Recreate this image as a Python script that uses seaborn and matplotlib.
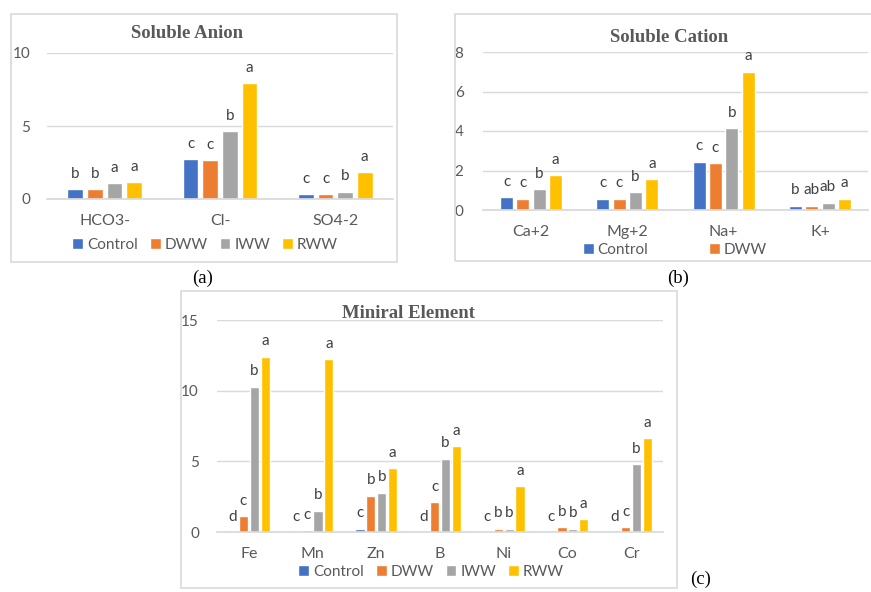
import numpy as np
import pandas as pd
import matplotlib
matplotlib.use("Agg")
import matplotlib.pyplot as plt
import seaborn as sns
from matplotlib.patches import Patch, Rectangle

W, H = 871, 592

TREATMENTS = ["Control", "DWW", "IWW", "RWW"]
COLORS = ["#4472C4", "#ED7D31", "#A5A5A5", "#FFC000"]

# (a) soluble anions
ANION_IONS = ["HCO3-", "Cl-", "SO4-2"]
ANION_CONTROL = [0.68, 2.74, 0.32]
ANION_DWW = [0.68, 2.67, 0.32]
ANION_IWW = [1.07, 4.63, 0.50]
ANION_RWW = [1.16, 7.95, 1.82]
ANION_LETTERS = [["b", "c", "c"], ["b", "c", "c"], ["a", "b", "b"], ["a", "a", "a"]]

# (b) soluble cations
CATION_IONS = ["Ca+2", "Mg+2", "Na+", "K+"]
CATION_CONTROL = [0.64, 0.57, 2.45, 0.22]
CATION_DWW = [0.57, 0.57, 2.38, 0.22]
CATION_IWW = [1.07, 0.91, 4.15, 0.37]
CATION_RWW = [1.76, 1.56, 7.00, 0.57]
CATION_LETTERS = [["c", "c", "c", "b"], ["c", "c", "c", "ab"],
                  ["b", "b", "b", "ab"], ["a", "a", "a", "a"]]

# (c) mineral elements
ELEMENTS = ["Fe", "Mn", "Zn", "B", "Ni", "Co", "Cr"]
ELEM_CONTROL = [0.0, 0.0, 0.24, 0.0, 0.0, 0.0, 0.0]
ELEM_DWW = [1.11, 0.14, 2.57, 2.10, 0.24, 0.33, 0.33]
ELEM_IWW = [10.28, 1.51, 2.79, 5.20, 0.24, 0.24, 4.82]
ELEM_RWW = [12.40, 12.21, 4.51, 6.09, 3.24, 0.92, 6.66]
ELEM_LETTERS = [["d", "c", "c", "d", "c", "c", "d"],
                ["c", "c", "b", "c", "b", "b", "c"],
                ["b", "b", "b", "b", "b", "b", "b"],
                ["a", "a", "a", "a", "a", "a", "a"]]

TXT = "#595959"
GRID = "#d9d9d9"

sns.set_theme(style="white")
plt.rcParams["font.family"] = ["Lato", "DejaVu Sans"]


def long_frame(cats, series):
    rows = []
    for trt, vals in zip(TREATMENTS, series):
        for c, v in zip(cats, vals):
            rows.append({"cat": c, "trt": trt, "val": v})
    return pd.DataFrame(rows)


def px_axes(fig, x0, y0, x1, y1):
    return fig.add_axes([x0 / W, 1 - y1 / H, (x1 - x0) / W, (y1 - y0) / H])


def frame(fig, x0, y0, x1, y1):
    fig.add_artist(Rectangle((x0 / W, 1 - y1 / H), (x1 - x0) / W, (y1 - y0) / H,
                             transform=fig.transFigure, fill=False,
                             edgecolor=GRID, lw=1.2))


def panel(ax, cats, series, letters, ymax, yticks, gap, ypad):
    df = long_frame(cats, series)
    sns.barplot(data=df, x="cat", y="val", hue="trt", order=cats,
                hue_order=TREATMENTS, palette=dict(zip(TREATMENTS, COLORS)),
                saturation=1, width=0.68, gap=gap, errorbar=None, ax=ax,
                legend=False)
    for cont, labs in zip(ax.containers, letters):
        ax.bar_label(cont, labels=labs, padding=6, fontsize=11, color="#404040")
    ax.set_ylim(0, ymax)
    ax.set_yticks(yticks)
    ax.yaxis.grid(True, color=GRID, lw=1)
    ax.set_axisbelow(True)
    for s in ["top", "right", "left"]:
        ax.spines[s].set_visible(False)
    ax.spines["bottom"].set_color(GRID)
    ax.set_xlabel("")
    ax.set_ylabel("")
    ax.tick_params(axis="y", length=0, pad=ypad, labelsize=11, labelcolor=TXT)
    ax.tick_params(axis="x", length=0, pad=11, labelsize=11.5, labelcolor=TXT)
    ax.set_facecolor("none")


def legend(fig, xc, yc, names, colspace):
    handles = [Patch(facecolor=COLORS[TREATMENTS.index(n)], label=n) for n in names]
    fig.legend(handles=handles, loc="center", bbox_to_anchor=(xc / W, 1 - yc / H),
               ncol=len(names), frameon=False, handlelength=0.7, handleheight=0.7,
               handletextpad=0.25, columnspacing=colspace, fontsize=11,
               labelcolor=TXT, borderaxespad=0)


def title(fig, x, y, text):
    fig.text(x / W, 1 - y / H, text, ha="center", va="center",
             family="Liberation Serif", weight="bold", fontsize=13.5, color=TXT)


fig = plt.figure(figsize=(W / 100, H / 100), dpi=100)

# frames
frame(fig, 11, 14, 397, 262)
frame(fig, 455, 14, 880, 261)
frame(fig, 181, 291, 677, 588)

# (a)
ax_a = px_axes(fig, 47, 53, 393, 199)
panel(ax_a, ANION_IONS, [ANION_CONTROL, ANION_DWW, ANION_IWW, ANION_RWW],
      ANION_LETTERS, 10, [0, 5, 10], 0.2, 12)
title(fig, 187, 33, "Soluble Anion")
legend(fig, 205, 245, TREATMENTS, 0.8)

# (b)
ax_b = px_axes(fig, 483, 52, 868, 210)
panel(ax_b, CATION_IONS, [CATION_CONTROL, CATION_DWW, CATION_IWW, CATION_RWW],
      CATION_LETTERS, 8, [0, 2, 4, 6, 8], 0.2, 14)
title(fig, 669, 38, "Soluble Cation")
legend(fig, 675, 250, ["Control", "DWW"], 4.0)

# (c)
ax_c = px_axes(fig, 217, 320, 663, 532)
panel(ax_c, ELEMENTS, [ELEM_CONTROL, ELEM_DWW, ELEM_IWW, ELEM_RWW],
      ELEM_LETTERS, 15, [0, 5, 10, 15], 0.15, 13)
title(fig, 408, 313, "Miniral Element")
legend(fig, 431, 572, TREATMENTS, 0.8)

# panel labels
for lab, x, y in [("(a)", 203, 278), ("(b)", 678, 278), ("(c)", 701, 579)]:
    fig.text(x / W, 1 - y / H, lab, ha="center", va="center",
             family="Liberation Serif", fontsize=13.5, color="black")

fig.savefig("out.png", dpi=100)
